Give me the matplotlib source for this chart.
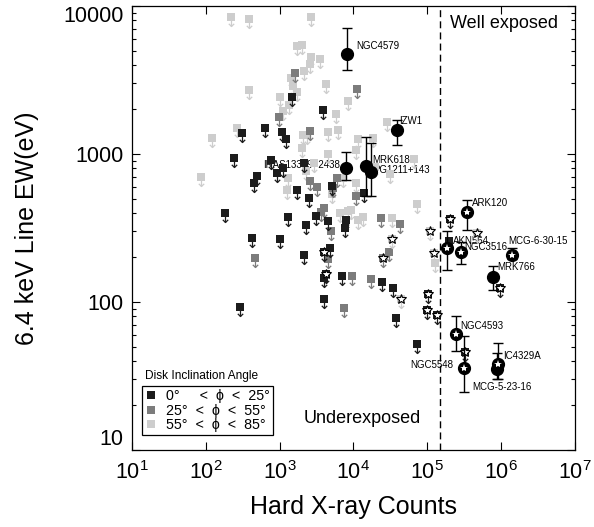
import numpy as np
import matplotlib
matplotlib.use('Agg')
import matplotlib.pyplot as plt
from matplotlib.path import Path
from matplotlib.lines import Line2D
from matplotlib.ticker import NullFormatter

plt.rcParams['font.family'] = ['Liberation Sans', 'DejaVu Sans']

# upper limits, 0 < phi < 25 deg
dark_x = [1490, 3830, 306, 633, 1080, 1220, 241, 763, 489, 453, 912, 1100, 2140,
          1730, 2470, 182, 1285, 2250, 3100, 4480, 5160, 418, 1010, 2120, 4810,
          6920, 3990, 7670, 13900, 7920, 24600, 34000, 199000, 37600, 71800, 290, 4020]
dark_y = [2410, 1970, 1380, 1510, 1400, 1260, 944, 911, 710, 640, 741, 800, 865,
          571, 507, 401, 377, 331, 381, 353, 612, 272, 267, 208, 233,
          151, 146, 318, 542, 358, 137, 124, 258, 78, 52, 93, 105]
# 0 < phi < 25 deg, starred
dark_star_x = [4020, 4200, 103000, 98100, 134000, 950000, 324000, 203000]
dark_star_y = [217, 154, 113, 88, 82, 124, 46, 364]

# 25 < phi < 55 deg
mid_x = [1615, 989, 2580, 11000, 2580, 3180, 5920, 5330, 4020, 3600, 4910, 463,
         4560, 10800, 23400, 42700, 30500, 9460, 17100, 7430]
mid_y = [3510, 1770, 1420, 2750, 657, 601, 685, 586, 434, 408, 302, 197,
         194, 520, 370, 336, 219, 150, 143, 91]
mid_star_x = [24900]
mid_star_y = [199]

# 55 < phi < 85 deg
light_x = [219, 385, 2660, 1700, 1990, 2660, 3520, 2580, 2140, 1425, 1500, 1700,
           385, 4250, 1010, 1330, 1120, 8510, 5800, 262, 120, 2050, 2320, 4480,
           6110, 1990, 28200, 11600, 18500, 86, 4480, 2920, 1285, 1270, 2250, 7280,
           5070, 6560, 7840, 8510, 10800, 66000, 31200, 71800, 10800, 9160, 13300,
           11600, 33000, 127000, 19500]
light_y = [8470, 8130, 8390, 5390, 5450, 4490, 4360, 4050, 3640, 3260, 2880, 2620,
           2690, 2960, 2410, 2150, 1950, 2270, 1850, 1510, 1280, 1340, 1340, 1400,
           1450, 1090, 1640, 1260, 1280, 703, 995, 865, 685, 575, 767, 693,
           535, 401, 349, 412, 1060, 925, 729, 457, 634, 419, 377,
           358, 368, 183, 821]
light_star_x = [109000, 33600, 124000, 471000, 44000]
light_star_y = [302, 267, 213, 292, 105]

# detections with error bars
det_name = ['NGC4579', 'IZW1', 'IRAS13349+2438', 'MRK618', 'PG1211+143', 'ARK120',
            'AKN564', 'NGC3516', 'MCG-6-30-15', 'MRK766', 'NGC4593', 'NGC5548',
            'MCG-5-23-16', 'IC4329A']
det_x = [8240, 39200, 7800, 14800, 17100, 341000, 186600, 283000, 1390000, 783000,
         245000, 314000, 870000, 900000]
det_y = [4740, 1450, 808, 834, 759, 408, 231, 219, 208, 148, 61, 36, 35.5, 38]
det_lo = [3700, 1150, 667, 520, 520, 306, 165, 181, 194, 121, 47, 24.5, 30, 30]
det_hi = [7070, 1700, 1030, 1300, 1190, 489, 302, 256, 233, 176, 80, 59, 45, 53]
det_star = [False, False, False, False, False, True, True, True, True, False,
            True, True, False, True]

# label anchor (x, y, ha) for each name
label_pos = [(10800, 5370, 'left'), (41300, 1670, 'left'), (6560, 845, 'right'),
             (17700, 911, 'left'), (18400, 780, 'left'), (407000, 467, 'left'),
             (225000, 260, 'left'), (314000, 234, 'left'), (1230000, 258, 'left'),
             (887000, 173, 'left'), (283000, 69, 'left'), (225000, 37.5, 'right'),
             (412000, 26.8, 'left'), (1050000, 43.4, 'left')]

exposure_cut = 1.5e5

c_dark, c_mid, c_light = '#1c1c1c', '#7c7c7c', '#cdcdcd'

arrow = Path([(0, -0.38), (0, -1), (-0.3, -0.7), (0, -1), (0.3, -0.7)],
             [Path.MOVETO, Path.LINETO, Path.MOVETO, Path.LINETO, Path.LINETO])

fig = plt.figure(figsize=(5.94, 5.27), dpi=100)
ax = fig.add_axes([0.2222, 0.1461, 0.7458, 0.8425])
ax.set_xscale('log')
ax.set_yscale('log')


def limits(x, y, color, star=False):
    ax.plot(x, y, ls='none', marker=arrow, ms=13, mfc='none', mec=color,
            mew=0.9, zorder=3)
    ax.plot(x, y, ls='none', marker='s', ms=5.8, color=color, mew=0, zorder=3)
    if star:
        ax.plot(x, y, ls='none', marker='*', ms=7, mfc='white', mec='k',
                mew=0.8, zorder=4)


limits(light_x, light_y, c_light)
limits(mid_x, mid_y, c_mid)
limits(dark_x, dark_y, c_dark)
limits(light_star_x, light_star_y, c_light, star=True)
limits(mid_star_x, mid_star_y, c_mid, star=True)
limits(dark_star_x, dark_star_y, c_dark, star=True)

dx = np.array(det_x)
dy = np.array(det_y)
yerr = [dy - np.array(det_lo), np.array(det_hi) - dy]
ax.errorbar(dx, dy, yerr=yerr, fmt='none', ecolor='k', elinewidth=1,
            capsize=3.5, capthick=1, zorder=5)
ax.plot(dx, dy, ls='none', marker='o', ms=8.5, color='k', zorder=6)
st = np.array(det_star)
ax.plot(dx[st], dy[st], ls='none', marker='*', ms=6, color='white', mew=0, zorder=7)

for name, (lx, ly, ha) in zip(det_name, label_pos):
    ax.text(lx, ly, name, ha=ha, va='center', fontsize=7, zorder=2)

ax.axvline(exposure_cut, color='k', ls='--', lw=1, dashes=(5, 3), zorder=1)
ax.text(0.718, 0.961, 'Well exposed', transform=ax.transAxes, fontsize=13,
        ha='left', va='center')
ax.text(0.387, 0.072, 'Underexposed', transform=ax.transAxes, fontsize=13,
        ha='left', va='center')

ax.set_xlim(10, 1e7)
ax.set_ylim(10, 10000)
ax.set_xticks([1e1, 1e2, 1e3, 1e4, 1e5, 1e6, 1e7])
ax.set_yticks([10, 100, 1000, 10000])
ax.set_yticklabels(['10', '100', '1000', '10000'])
ax.yaxis.set_minor_formatter(NullFormatter())
ax.xaxis.set_minor_formatter(NullFormatter())
ax.tick_params(which='both', direction='in', top=True, right=True, width=0.8)
ax.tick_params(which='major', length=6, labelsize=15.5, pad=6)
ax.tick_params(axis='x', which='major', pad=8)
ax.tick_params(which='minor', length=3)
for s in ax.spines.values():
    s.set_linewidth(0.9)
ylabs = ax.get_yticklabels()
ylabs[0].set_va('bottom')
ylabs[-1].set_va('top')

ax.set_xlabel('Hard X-ray Counts', fontsize=18)
ax.set_ylabel('6.4 keV Line EW(eV)', fontsize=18)
ax.xaxis.set_label_coords(0.5, -0.102)
ax.yaxis.set_label_coords(-0.21, 0.5)

# legend
ax.text(0.029, 0.167, 'Disk Inclination Angle', transform=ax.transAxes,
        fontsize=8.6, ha='left', va='center')
handles = [Line2D([], [], ls='none', marker='s', ms=6, color=c, mew=0)
           for c in (c_dark, c_mid, c_light)]
labels = ['0°     <  \u03d5  <  25°', '25°  <  \u03d5  <  55°', '55°  <  \u03d5  <  85°']
leg = ax.legend(handles, labels, loc='lower left', bbox_to_anchor=(0.023, 0.033),
                borderaxespad=0, fontsize=10.3, handlelength=0.8, handletextpad=0.7,
                labelspacing=0.05, borderpad=0.2, fancybox=False, framealpha=1,
                edgecolor='k')
leg.get_frame().set_linewidth(0.9)

fig.savefig('out.png', dpi=100)
